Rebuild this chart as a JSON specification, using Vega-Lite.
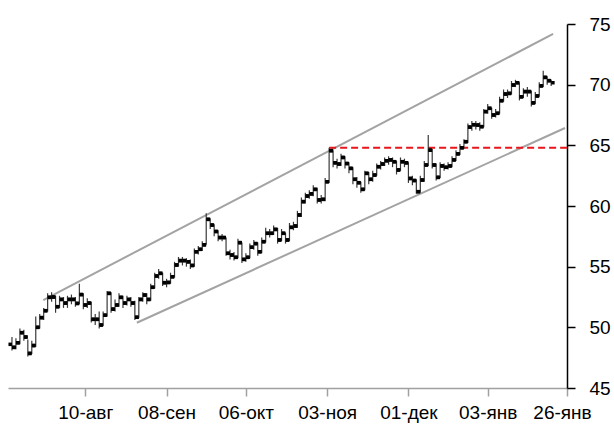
{
  "$schema": "https://vega.github.io/schema/vega-lite/v6.json",
  "width": 559,
  "height": 364,
  "autosize": "none",
  "padding": {"left": 8, "top": 24, "right": 47, "bottom": 38},
  "background": "white",
  "config": {
    "view": {"stroke": null},
    "font": "Liberation Sans",
    "axisY": {
      "title": null,
      "grid": false,
      "domainColor": "#000000",
      "domainWidth": 1.5,
      "tickColor": "#000000",
      "tickWidth": 1.5,
      "tickSize": 8,
      "labelFont": "Liberation Sans",
      "labelFontSize": 19,
      "labelColor": "#000000",
      "labelPadding": 14,
      "labelOverlap": false,
      "labelBound": false,
      "labelFlush": false
    }
  },
  "datasets": {
    "bars": [
      {"i":1,"o":48.6,"h":49.2,"l":48.1,"c":48.35},
      {"i":2,"o":48.35,"h":49.1,"l":48.2,"c":48.73},
      {"i":3,"o":48.73,"h":49.9,"l":48.6,"c":49.56},
      {"i":4,"o":49.56,"h":49.8,"l":48.9,"c":49.2},
      {"i":5,"o":49.2,"h":49.0,"l":47.6,"c":47.85},
      {"i":6,"o":47.85,"h":48.9,"l":47.8,"c":48.5},
      {"i":7,"o":48.5,"h":50.9,"l":48.4,"c":50.0},
      {"i":8,"o":50.0,"h":51.1,"l":49.9,"c":50.8},
      {"i":9,"o":50.8,"h":51.6,"l":50.6,"c":51.37},
      {"i":10,"o":51.37,"h":52.8,"l":51.3,"c":52.47},
      {"i":11,"o":52.47,"h":52.9,"l":52.1,"c":52.5},
      {"i":12,"o":52.5,"h":52.6,"l":51.2,"c":51.7},
      {"i":13,"o":51.7,"h":52.6,"l":51.6,"c":52.3},
      {"i":14,"o":52.3,"h":52.5,"l":51.6,"c":52.0},
      {"i":15,"o":52.0,"h":52.6,"l":51.6,"c":52.3},
      {"i":16,"o":52.3,"h":52.7,"l":51.9,"c":52.3},
      {"i":17,"o":52.3,"h":52.5,"l":51.7,"c":51.97},
      {"i":18,"o":51.97,"h":53.6,"l":51.9,"c":52.7},
      {"i":19,"o":52.7,"h":52.8,"l":51.5,"c":51.84},
      {"i":20,"o":51.84,"h":52.4,"l":51.6,"c":52.0},
      {"i":21,"o":52.0,"h":52.1,"l":50.4,"c":50.66},
      {"i":22,"o":50.66,"h":51.1,"l":50.2,"c":50.66},
      {"i":23,"o":50.66,"h":51.3,"l":49.9,"c":50.19},
      {"i":24,"o":50.19,"h":51.3,"l":50.1,"c":51.0},
      {"i":25,"o":51.0,"h":53.0,"l":50.9,"c":52.8},
      {"i":26,"o":52.8,"h":52.9,"l":51.2,"c":51.5},
      {"i":27,"o":51.5,"h":52.3,"l":51.3,"c":51.84},
      {"i":28,"o":51.84,"h":52.8,"l":51.7,"c":52.47},
      {"i":29,"o":52.47,"h":52.6,"l":51.6,"c":52.0},
      {"i":30,"o":52.0,"h":52.6,"l":51.8,"c":52.3},
      {"i":31,"o":52.3,"h":52.5,"l":51.7,"c":52.0},
      {"i":32,"o":52.0,"h":52.2,"l":50.6,"c":50.83},
      {"i":33,"o":50.83,"h":52.5,"l":50.8,"c":52.3},
      {"i":34,"o":52.3,"h":52.9,"l":52.1,"c":52.66},
      {"i":35,"o":52.66,"h":52.8,"l":51.9,"c":52.3},
      {"i":36,"o":52.3,"h":53.6,"l":52.2,"c":53.3},
      {"i":37,"o":53.3,"h":54.5,"l":53.2,"c":54.23},
      {"i":38,"o":54.23,"h":54.8,"l":54.0,"c":54.45},
      {"i":39,"o":54.45,"h":54.5,"l":53.4,"c":53.68},
      {"i":40,"o":53.68,"h":54.0,"l":53.3,"c":53.7},
      {"i":41,"o":53.7,"h":54.5,"l":53.6,"c":54.17},
      {"i":42,"o":54.17,"h":55.4,"l":54.1,"c":55.14},
      {"i":43,"o":55.14,"h":55.8,"l":55.0,"c":55.5},
      {"i":44,"o":55.5,"h":55.8,"l":55.1,"c":55.5},
      {"i":45,"o":55.5,"h":55.7,"l":55.0,"c":55.4},
      {"i":46,"o":55.4,"h":55.6,"l":54.8,"c":55.1},
      {"i":47,"o":55.1,"h":56.5,"l":55.0,"c":56.23},
      {"i":48,"o":56.23,"h":56.7,"l":56.0,"c":56.43},
      {"i":49,"o":56.43,"h":57.1,"l":56.3,"c":56.8},
      {"i":50,"o":56.8,"h":59.4,"l":56.8,"c":58.9},
      {"i":51,"o":58.9,"h":59.0,"l":58.1,"c":58.43},
      {"i":52,"o":58.43,"h":58.5,"l":57.5,"c":57.9},
      {"i":53,"o":57.9,"h":58.0,"l":57.1,"c":57.4},
      {"i":54,"o":57.4,"h":57.7,"l":57.1,"c":57.4},
      {"i":55,"o":57.4,"h":57.4,"l":55.9,"c":56.1},
      {"i":56,"o":56.1,"h":56.4,"l":55.6,"c":55.96},
      {"i":57,"o":55.96,"h":56.2,"l":55.5,"c":55.77},
      {"i":58,"o":55.77,"h":57.3,"l":55.7,"c":56.98},
      {"i":59,"o":56.98,"h":57.0,"l":55.3,"c":55.6},
      {"i":60,"o":55.6,"h":56.1,"l":55.4,"c":55.77},
      {"i":61,"o":55.77,"h":56.9,"l":55.7,"c":56.6},
      {"i":62,"o":56.6,"h":57.2,"l":56.4,"c":56.9},
      {"i":63,"o":56.9,"h":57.0,"l":55.9,"c":56.23},
      {"i":64,"o":56.23,"h":57.4,"l":56.1,"c":57.06},
      {"i":65,"o":57.06,"h":58.2,"l":57.0,"c":57.75},
      {"i":66,"o":57.75,"h":58.1,"l":57.4,"c":57.75},
      {"i":67,"o":57.75,"h":58.4,"l":57.6,"c":58.07},
      {"i":68,"o":58.07,"h":58.2,"l":56.9,"c":57.2},
      {"i":69,"o":57.2,"h":58.1,"l":57.1,"c":57.75},
      {"i":70,"o":57.75,"h":57.8,"l":56.9,"c":57.2},
      {"i":71,"o":57.2,"h":58.6,"l":57.1,"c":58.24},
      {"i":72,"o":58.24,"h":58.7,"l":58.0,"c":58.35},
      {"i":73,"o":58.35,"h":59.6,"l":58.2,"c":59.26},
      {"i":74,"o":59.26,"h":60.7,"l":59.1,"c":60.36},
      {"i":75,"o":60.36,"h":61.1,"l":60.2,"c":60.82},
      {"i":76,"o":60.82,"h":61.3,"l":60.6,"c":61.0},
      {"i":77,"o":61.0,"h":61.7,"l":60.8,"c":61.37},
      {"i":78,"o":61.37,"h":61.5,"l":60.2,"c":60.5},
      {"i":79,"o":60.5,"h":60.9,"l":60.2,"c":60.55},
      {"i":80,"o":60.55,"h":62.3,"l":60.4,"c":62.0},
      {"i":81,"o":62.0,"h":64.8,"l":61.9,"c":64.56},
      {"i":82,"o":64.56,"h":64.6,"l":63.2,"c":63.56},
      {"i":83,"o":63.56,"h":63.9,"l":63.1,"c":63.46},
      {"i":84,"o":63.46,"h":64.3,"l":63.3,"c":64.0},
      {"i":85,"o":64.0,"h":64.1,"l":63.1,"c":63.5},
      {"i":86,"o":63.5,"h":63.6,"l":62.7,"c":63.1},
      {"i":87,"o":63.1,"h":63.2,"l":61.8,"c":62.2},
      {"i":88,"o":62.2,"h":62.4,"l":61.5,"c":61.92},
      {"i":89,"o":61.92,"h":62.0,"l":61.1,"c":61.37},
      {"i":90,"o":61.37,"h":62.9,"l":61.3,"c":62.69},
      {"i":91,"o":62.69,"h":62.8,"l":61.8,"c":62.2},
      {"i":92,"o":62.2,"h":62.9,"l":62.0,"c":62.55},
      {"i":93,"o":62.55,"h":63.5,"l":62.5,"c":63.24},
      {"i":94,"o":63.24,"h":63.7,"l":63.0,"c":63.46},
      {"i":95,"o":63.46,"h":64.0,"l":63.3,"c":63.73},
      {"i":96,"o":63.73,"h":64.1,"l":63.4,"c":63.8},
      {"i":97,"o":63.8,"h":64.0,"l":63.2,"c":63.65},
      {"i":98,"o":63.65,"h":63.7,"l":62.6,"c":62.97},
      {"i":99,"o":62.97,"h":64.0,"l":62.9,"c":63.65},
      {"i":100,"o":63.65,"h":63.9,"l":63.2,"c":63.56},
      {"i":101,"o":63.56,"h":63.6,"l":61.9,"c":62.27},
      {"i":102,"o":62.27,"h":62.5,"l":61.7,"c":62.1},
      {"i":103,"o":62.1,"h":62.2,"l":61.0,"c":61.18},
      {"i":104,"o":61.18,"h":62.5,"l":61.1,"c":62.14},
      {"i":105,"o":62.14,"h":63.7,"l":62.0,"c":63.38},
      {"i":106,"o":63.38,"h":65.85,"l":63.3,"c":64.6},
      {"i":107,"o":64.6,"h":64.7,"l":63.1,"c":63.38},
      {"i":108,"o":63.38,"h":63.5,"l":62.1,"c":62.36},
      {"i":109,"o":62.36,"h":63.6,"l":62.3,"c":63.3},
      {"i":110,"o":63.3,"h":63.5,"l":62.9,"c":63.19},
      {"i":111,"o":63.19,"h":63.6,"l":63.0,"c":63.3},
      {"i":112,"o":63.3,"h":64.1,"l":63.2,"c":63.8},
      {"i":113,"o":63.8,"h":64.6,"l":63.7,"c":64.3},
      {"i":114,"o":64.3,"h":65.1,"l":64.2,"c":64.8},
      {"i":115,"o":64.8,"h":65.5,"l":64.7,"c":65.3},
      {"i":116,"o":65.3,"h":66.8,"l":65.2,"c":66.5},
      {"i":117,"o":66.5,"h":67.0,"l":66.2,"c":66.7},
      {"i":118,"o":66.7,"h":67.0,"l":66.3,"c":66.67},
      {"i":119,"o":66.67,"h":66.9,"l":66.2,"c":66.54},
      {"i":120,"o":66.54,"h":68.0,"l":66.5,"c":67.78},
      {"i":121,"o":67.78,"h":68.4,"l":67.6,"c":68.05},
      {"i":122,"o":68.05,"h":68.1,"l":67.2,"c":67.5},
      {"i":123,"o":67.5,"h":68.0,"l":67.3,"c":67.64},
      {"i":124,"o":67.64,"h":69.0,"l":67.6,"c":68.68},
      {"i":125,"o":68.68,"h":69.6,"l":68.6,"c":69.23},
      {"i":126,"o":69.23,"h":69.6,"l":68.9,"c":69.28},
      {"i":127,"o":69.28,"h":70.3,"l":69.2,"c":69.97},
      {"i":128,"o":69.97,"h":70.4,"l":69.8,"c":70.16},
      {"i":129,"o":70.16,"h":70.2,"l":68.7,"c":69.0},
      {"i":130,"o":69.0,"h":69.7,"l":68.9,"c":69.43},
      {"i":131,"o":69.43,"h":69.8,"l":69.0,"c":69.43},
      {"i":132,"o":69.43,"h":69.5,"l":68.2,"c":68.5},
      {"i":133,"o":68.5,"h":69.4,"l":68.4,"c":69.07},
      {"i":134,"o":69.07,"h":70.2,"l":69.0,"c":69.9},
      {"i":135,"o":69.9,"h":71.15,"l":69.8,"c":70.6},
      {"i":136,"o":70.6,"h":70.7,"l":70.0,"c":70.33},
      {"i":137,"o":70.33,"h":70.4,"l":69.9,"c":70.16}
    ],
    "trend": [
      {"s":"up","i":8.9,"v":52.25},
      {"s":"up","i":137.5,"v":74.18},
      {"s":"lo","i":32.5,"v":50.38},
      {"s":"lo","i":140.5,"v":66.43}
    ],
    "level": [
      {"i":81,"v":64.8},
      {"i":141,"v":64.8}
    ]
  },
  "encoding": {
    "x": {
      "field": "i",
      "type": "quantitative",
      "scale": {"domain": [0, 141], "nice": false, "zero": false},
      "axis": {
        "title": null,
        "grid": false,
        "values": [19.5, 40, 60, 80.5, 101, 121, 141],
        "labelExpr": "datum.value < 30 ? '10-авг' : datum.value < 50 ? '08-сен' : datum.value < 70 ? '06-окт' : datum.value < 90 ? '03-ноя' : datum.value < 110 ? '01-дек' : datum.value < 130 ? '03-янв' : '26-янв'",
        "domainColor": "#a0a0a0",
        "domainWidth": 1.5,
        "tickColor": "#a0a0a0",
        "tickWidth": 1.5,
        "tickSize": 8,
        "labelFont": "Liberation Sans",
        "labelFontSize": 19,
        "labelColor": "#000000",
        "labelPadding": 7,
        "labelOffset": {"condition": {"test": "datum.value > 130", "value": -5}, "value": 0},
        "labelFlush": false,
        "labelOverlap": false
      }
    }
  },
  "layer": [
    {
      "data": {"name": "trend"},
      "mark": {"type": "line", "color": "#a3a3a3", "strokeWidth": 2},
      "encoding": {
        "y": {"field": "v", "type": "quantitative", "scale": {"domain": [45, 75], "nice": false, "zero": false},
          "axis": {"orient": "right", "values": [45, 50, 55, 60, 65, 70, 75]}},
        "detail": {"field": "s"}
      }
    },
    {
      "data": {"name": "level"},
      "mark": {"type": "line", "color": "#e8161a", "strokeWidth": 1.8, "strokeDash": [7, 4]},
      "encoding": {
        "y": {"field": "v", "type": "quantitative", "axis": {"orient": "right", "values": [45, 50, 55, 60, 65, 70, 75]}}
      }
    },
    {
      "data": {"name": "bars"},
      "mark": {"type": "rule", "color": "#3a3a3a", "strokeWidth": 1.2},
      "encoding": {
        "y": {"field": "l", "type": "quantitative", "axis": {"orient": "right", "values": [45, 50, 55, 60, 65, 70, 75]}},
        "y2": {"field": "h"}
      }
    },
    {
      "data": {"name": "bars"},
      "mark": {"type": "tick", "orient": "horizontal", "size": 3.5, "thickness": 3.5, "xOffset": -1.75, "color": "#000000", "opacity": 1},
      "encoding": {
        "y": {"field": "o", "type": "quantitative", "axis": {"orient": "right", "values": [45, 50, 55, 60, 65, 70, 75]}}
      }
    },
    {
      "data": {"name": "bars"},
      "mark": {"type": "tick", "orient": "horizontal", "size": 3.5, "thickness": 3.5, "xOffset": 1.75, "color": "#000000", "opacity": 1},
      "encoding": {
        "y": {"field": "c", "type": "quantitative", "axis": {"orient": "right", "values": [45, 50, 55, 60, 65, 70, 75]}}
      }
    }
  ]
}
